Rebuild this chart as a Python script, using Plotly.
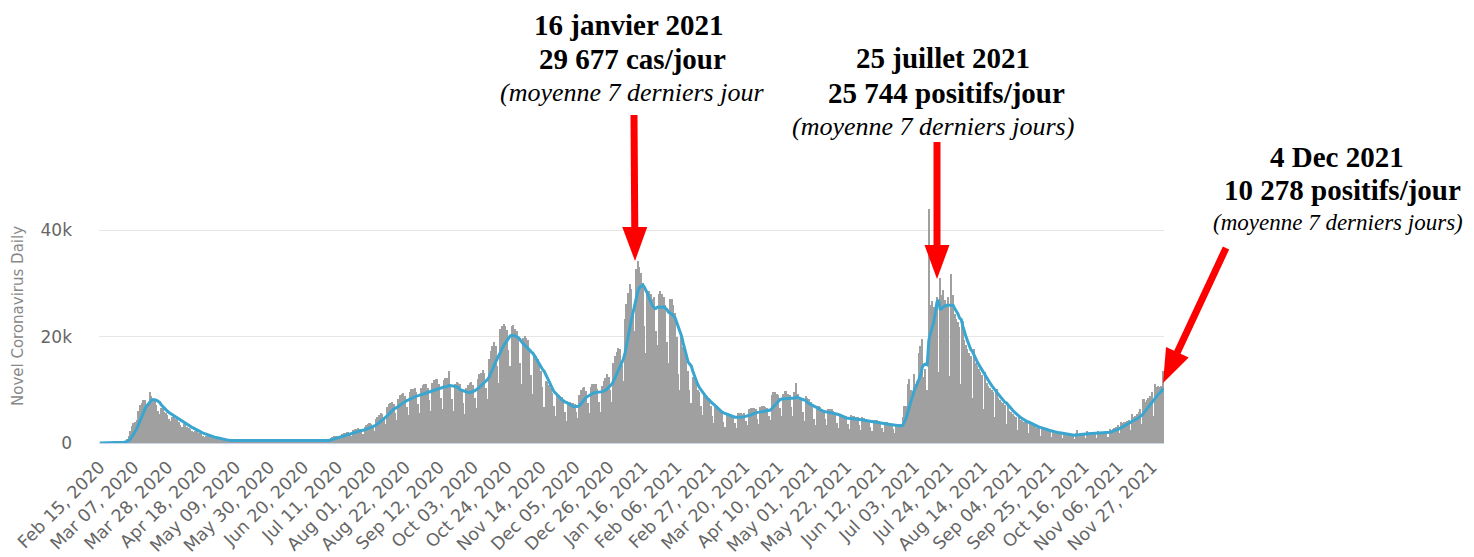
import math
import pandas as pd
import plotly.graph_objects as go

# ---------------- data (daily new cases, thousands; one row per week starting Saturday) ----------------
start_date = "2020-02-15"
cases_k = [
    0, 0, 0, 0, 0, 0, 0,
    0.02, 0.02, 0.02, 0.05, 0.07, 0.1, 0.15,
    0.2, 0.3, 0.4, 0.8, 1.4, 2.2, 3.2,
    3.7, 3.9, 4.3, 6.1, 7.2, 7.5, 8.0,
    8.0, 7.4, 7.1, 9.6, 8.9, 8.2, 7.9,
    7.2, 6.1, 5.5, 6.5, 6.5, 5.9, 5.7,
    5.2, 4.5, 4.1, 4.8, 4.8, 4.5, 4.3,
    3.9, 3.3, 3.0, 3.5, 3.4, 3.0, 2.9,
    2.6, 2.2, 2.0, 2.2, 2.2, 1.9, 1.8,
    1.6, 1.3, 1.1, 1.3, 1.3, 1.2, 1.0,
    0.95, 0.8, 0.7, 0.75, 0.7, 0.6, 0.55,
    0.5, 0.4, 0.35, 0.4, 0.5, 0.5, 0.5,
    0.45, 0.4, 0.4, 0.5, 0.55, 0.5, 0.5,
    0.5, 0.45, 0.45, 0.55, 0.6, 0.55, 0.55,
    0.5, 0.45, 0.45, 0.55, 0.6, 0.6, 0.55,
    0.5, 0.4, 0.4, 0.5, 0.55, 0.5, 0.5,
    0.45, 0.4, 0.4, 0.5, 0.5, 0.5, 0.45,
    0.45, 0.35, 0.35, 0.45, 0.45, 0.4, 0.4,
    0.35, 0.3, 0.3, 0.4, 0.4, 0.35, 0.35,
    0.35, 0.3, 0.3, 0.35, 0.4, 0.4, 0.45,
    0.6, 0.55, 0.5, 1.0, 1.15, 1.25, 1.4,
    1.25, 1.05, 0.85, 1.65, 1.85, 1.95, 2.05,
    2.0, 1.6, 1.25, 2.4, 2.6, 2.65, 2.75,
    2.6, 2.1, 1.6, 3.1, 3.3, 3.5, 3.7,
    3.55, 2.9, 2.3, 4.5, 4.95, 5.3, 5.6,
    5.45, 4.5, 3.5, 6.7, 7.25, 7.6, 7.8,
    7.35, 5.7, 4.4, 8.35, 9.0, 9.2, 9.4,
    8.8, 6.8, 5.2, 9.55, 10.1, 10.2, 10.35,
    9.55, 7.35, 5.6, 10.35, 10.9, 11.0, 11.15,
    10.4, 8.0, 6.05, 11.2, 11.85, 11.95, 12.1,
    11.1, 8.55, 6.4, 11.75, 12.3, 12.2, 13.6,
    10.9, 8.25, 6.1, 11.1, 11.4, 11.25, 11.05,
    10.0, 7.45, 5.5, 10.25, 10.9, 11.25, 11.5,
    10.9, 8.5, 6.5, 12.1, 12.9, 13.2, 13.8,
    13.1, 10.4, 8.2, 15.7, 17.25, 18.2, 19.0,
    18.2, 14.5, 11.3, 21.5, 22.0, 22.3, 22.0,
    21.2, 17.5, 14.5, 22.0, 22.2, 21.5, 21.0,
    20.0, 15.0, 11.0, 19.8, 20.2, 19.8, 19.3,
    17.1, 12.7, 9.2, 16.3, 16.4, 15.8, 15.1,
    13.5, 10.5, 6.8, 11.7, 11.5, 10.9, 10.35,
    9.45, 6.9, 5.0, 8.9, 9.1, 8.85, 8.6,
    7.65, 5.75, 4.2, 7.6, 7.7, 7.6, 7.5,
    7.25, 5.9, 4.7, 9.0, 9.9, 10.35, 10.5,
    9.75, 7.5, 5.7, 10.45, 11.05, 11.05, 11.05,
    10.1, 7.75, 5.8, 10.8, 11.7, 12.3, 12.9,
    12.4, 9.9, 7.8, 15.0, 16.4, 17.1, 17.9,
    17.7, 14.6, 11.7, 23.3, 26.2, 28.2, 29.9,
    28.9, 25.0, 21.0, 32.7, 34.2, 33.0, 32.0,
    30.0, 22.0, 17.0, 28.0, 28.5, 28.0, 27.0,
    27.5, 21.0, 18.5, 28.0, 28.5, 28.0, 27.5,
    26.0, 19.0, 15.0, 27.0, 27.0, 26.0, 24.5,
    20.0, 13.0, 10.0, 20.0, 18.0, 17.0, 15.4,
    13.5, 10.0, 7.5, 12.5, 12.0, 11.5, 10.0,
    9.5, 7.0, 5.2, 9.0, 8.8, 8.8, 8.4,
    7.0, 5.0, 3.8, 6.8, 6.6, 6.5, 6.3,
    5.7, 4.0, 3.0, 5.7, 5.6, 5.5, 5.2,
    5.2, 3.8, 2.9, 5.6, 5.7, 5.6, 5.5,
    5.6, 4.2, 3.3, 6.3, 6.6, 6.6, 6.6,
    6.3, 4.6, 3.6, 6.8, 7.0, 6.9, 6.8,
    6.5, 5.0, 4.4, 9.0, 9.5, 9.6, 9.2,
    9.0, 6.6, 5.0, 9.3, 9.8, 9.8, 9.3,
    9.0, 6.8, 5.0, 9.5, 11.3, 9.2, 8.4,
    8.0, 5.8, 4.2, 8.8, 8.4, 8.2, 7.7,
    6.9, 4.6, 3.4, 7.0, 6.9, 6.8, 6.4,
    6.2, 4.5, 3.3, 6.4, 6.4, 6.3, 6.1,
    5.7, 3.8, 2.8, 5.5, 5.4, 5.3, 5.1,
    5.0, 3.6, 2.7, 5.2, 5.1, 5.0, 4.9,
    4.8, 3.3, 2.4, 4.8, 4.7, 4.6, 4.4,
    4.3, 3.0, 2.2, 4.4, 4.3, 4.3, 4.1,
    4.0, 2.8, 2.0, 4.0, 3.9, 3.8, 3.7,
    3.6, 2.6, 1.9, 3.6, 3.6, 3.6, 3.5,
    4.8, 7.0, 7.0, 11.0, 12.1, 10.0, 9.7,
    13.0, 11.0, 11.6, 17.0, 18.3, 19.5, 12.5,
    14.0, 10.0, 44.0, 26.0, 26.6, 25.5, 25.4,
    27.5, 13.3, 31.0, 27.8, 28.7, 26.9, 26.1,
    27.5, 12.6, 31.7, 27.8, 24.3, 23.4, 22.7,
    21.8, 11.0, 23.0, 19.3, 18.5, 17.6, 17.0,
    16.4, 8.4, 17.6, 15.0, 14.5, 13.9, 13.3,
    12.8, 6.4, 13.4, 11.3, 10.8, 10.4, 10.0,
    9.6, 4.8, 10.1, 8.4, 8.1, 7.8, 7.5,
    7.1, 3.6, 7.3, 6.1, 5.8, 5.5, 5.1,
    4.9, 2.5, 5.2, 4.3, 4.2, 4.0, 3.9,
    3.8, 1.9, 4.0, 3.3, 3.2, 3.0, 2.9,
    2.8, 1.4, 3.1, 2.6, 2.5, 2.4, 2.3,
    2.2, 1.1, 2.4, 2.0, 1.95, 1.9, 1.85,
    1.8, 0.9, 1.9, 1.6, 1.6, 1.5, 1.5,
    1.4, 0.7, 1.8, 2.4, 1.7, 1.8, 1.8,
    1.9, 1.0, 2.2, 1.9, 1.9, 1.9, 1.9,
    1.9, 1.0, 2.2, 1.9, 2.0, 2.0, 2.1,
    2.2, 1.2, 2.7, 2.5, 2.7, 2.9, 3.0,
    3.3, 1.8, 4.0, 3.7, 3.9, 4.0, 4.2,
    4.4, 2.4, 5.4, 4.9, 5.1, 5.5, 5.9,
    6.3, 3.6, 8.3, 7.7, 8.1, 8.5, 8.9,
    9.5, 5.0, 11.0, 10.5, 10.8, 10.5, 10.8,
    13.5,
]

tick_dates = [
    "2020-02-15", "2020-03-07", "2020-03-28", "2020-04-18", "2020-05-09", "2020-05-30",
    "2020-06-20", "2020-07-11", "2020-08-01", "2020-08-22", "2020-09-12", "2020-10-03",
    "2020-10-24", "2020-11-14", "2020-12-05", "2020-12-26", "2021-01-16", "2021-02-06",
    "2021-02-27", "2021-03-20", "2021-04-10", "2021-05-01", "2021-05-22", "2021-06-12",
    "2021-07-03", "2021-07-24", "2021-08-14", "2021-09-04", "2021-09-25", "2021-10-16",
    "2021-11-06", "2021-11-27",
]
tick_labels = [
    "Feb 15, 2020", "Mar 07, 2020", "Mar 28, 2020", "Apr 18, 2020", "May 09, 2020", "May 30, 2020",
    "Jun 20, 2020", "Jul 11, 2020", "Aug 01, 2020", "Aug 22, 2020", "Sep 12, 2020", "Oct 03, 2020",
    "Oct 24, 2020", "Nov 14, 2020", "Dec 05, 2020", "Dec 26, 2020", "Jan 16, 2021", "Feb 06, 2021",
    "Feb 27, 2021", "Mar 20, 2021", "Apr 10, 2021", "May 01, 2021", "May 22, 2021", "Jun 12, 2021",
    "Jul 03, 2021", "Jul 24, 2021", "Aug 14, 2021", "Sep 04, 2021", "Sep 25, 2021", "Oct 16, 2021",
    "Nov 06, 2021", "Nov 27, 2021",
]
y_ticks = [0, 20000, 40000]
y_tick_labels = ["0", "20k", "40k"]

notes = [
    # (text, center x px, center y px, bold, size)
    ("16 janvier 2021", 629, 25, True, 29),
    ("29 677 cas/jour", 632, 59, True, 29),
    ("(moyenne 7 derniers jour", 632, 92, False, 26),
    ("25 juillet 2021", 943, 58, True, 29),
    ("25 744 positifs/jour", 946, 93, True, 29),
    ("(moyenne 7 derniers jours)", 933, 126, False, 26),
    ("4 Dec 2021", 1337, 157, True, 29),
    ("10 278 positifs/jour", 1342, 190, True, 29),
    ("(moyenne 7 derniers jours)", 1338, 222, False, 23),
]
arrows = [
    # (start x, start y, tip x, tip y) in px
    (634, 115, 635, 261),
    (937, 142, 937, 279),
    (1226, 248, 1163, 383),
]

# ---------------- derived ----------------
cases = [round(v * 1000) for v in cases_k]
dates = pd.date_range(start_date, periods=len(cases), freq="D")
avg7 = pd.Series(cases).rolling(7, min_periods=1).mean()

OFF = 8  # page body margin
W, H = 1474 - OFF, 557 - OFF
ML = 99 - OFF
MR = W - (1164 - OFF)
MT = 177 - OFF
MB = H - (443 - OFF)


def xp(px):
    return (px - OFF - ML) / (W - ML - MR)


def yp(py):
    return (H - MB - (py - OFF)) / (H - MT - MB)


fig = go.Figure()
fig.add_trace(go.Bar(x=dates, y=cases, marker=dict(color="#a0a0a0", line=dict(width=0)),
                     name="Daily Cases"))
fig.add_trace(go.Scatter(x=dates, y=avg7, mode="lines", line=dict(color="#3aa6d0", width=3),
                         name="7-day moving average"))

annotations = []
for text, cx, cy, bold, size in notes:
    annotations.append(dict(
        text=f"<b>{text}</b>" if bold else f"<i>{text}</i>",
        x=xp(cx), y=yp(cy), xref="paper", yref="paper", xanchor="center", yanchor="middle",
        showarrow=False,
        font=dict(family="Liberation Serif, Times New Roman, serif", size=size, color="#000000"),
    ))
annotations.append(dict(
    text="Novel Coronavirus Daily", textangle=-90, x=xp(18), y=yp(316), xref="paper", yref="paper",
    xanchor="center", yanchor="middle", showarrow=False,
    font=dict(family="DejaVu Sans, Verdana, sans-serif", size=15, color="#888888"),
))

shapes = []
for (x0, y0, x1, y1) in arrows:
    dx, dy = x1 - x0, y1 - y0
    ln = math.hypot(dx, dy)
    ux, uy = dx / ln, dy / ln
    hl, hw = 34, 25
    bx, by = x1 - ux * hl, y1 - uy * hl
    nx, ny = -uy, ux
    shapes.append(dict(type="line", xref="paper", yref="paper",
                       x0=xp(x0), y0=yp(y0), x1=xp(bx + ux * 2), y1=yp(by + uy * 2),
                       line=dict(color="#ff0000", width=7)))
    p1 = (bx + nx * hw / 2, by + ny * hw / 2)
    p2 = (bx - nx * hw / 2, by - ny * hw / 2)
    path = (f"M {xp(x1)},{yp(y1)} L {xp(p1[0])},{yp(p1[1])} "
            f"L {xp(p2[0])},{yp(p2[1])} Z")
    shapes.append(dict(type="path", xref="paper", yref="paper", path=path,
                       fillcolor="#ff0000", line=dict(color="#ff0000", width=0)))

fig.update_layout(
    width=W, height=H,
    margin=dict(l=ML, r=MR, t=MT, b=MB, pad=0, autoexpand=False),
    plot_bgcolor="#ffffff", paper_bgcolor="#ffffff",
    showlegend=False, bargap=0,
    annotations=annotations, shapes=shapes,
    font=dict(family="DejaVu Sans, Verdana, sans-serif", color="#666666"),
)
fig.update_xaxes(
    type="date", automargin=False,
    range=[pd.Timestamp(start_date) - pd.Timedelta(hours=12),
           dates[-1] + pd.Timedelta(hours=12)],
    tickvals=tick_dates, ticktext=tick_labels, tickangle=-45,
    tickfont=dict(size=17.5, color="#666666"),
    showgrid=False, zeroline=False, showline=True, linecolor="#ccd6eb", linewidth=1,
    ticks="", ticklabelstandoff=6,
)
fig.update_yaxes(
    automargin=False,
    range=[0, 50000], tickvals=y_ticks, ticktext=y_tick_labels,
    tickfont=dict(size=17, color="#666666"),
    showgrid=True, gridcolor="#e6e6e6", gridwidth=1, zeroline=False, showline=False,
    ticks="", ticklabelstandoff=26,
)

fig.write_html("out.html")
